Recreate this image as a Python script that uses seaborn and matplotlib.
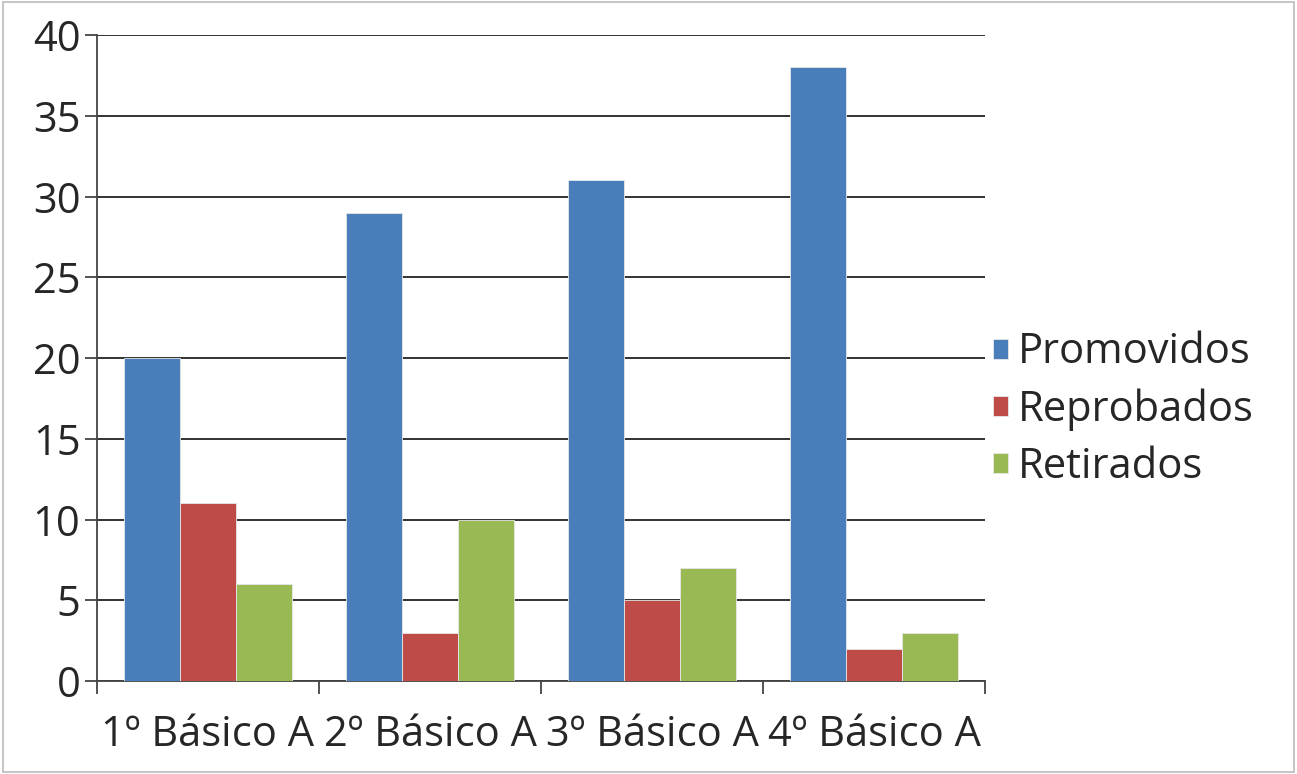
import matplotlib
matplotlib.use("Agg")
import matplotlib.pyplot as plt
import pandas as pd
import seaborn as sns

# === DATA ===
cursos = ["1º Básico A", "2º Básico A", "3º Básico A", "4º Básico A"]
series = ["Promovidos", "Reprobados", "Retirados"]
promovidos = [20, 29, 31, 38]
reprobados = [11, 3, 5, 2]
retirados = [6, 10, 7, 3]
y_ticks = [0, 5, 10, 15, 20, 25, 30, 35, 40]

colores = ["#4a7ebb", "#be4b48", "#98b954"]


def build_frame():
    rows = []
    for nombre, valores in zip(series, [promovidos, reprobados, retirados]):
        for curso, v in zip(cursos, valores):
            rows.append({"Curso": curso, "Serie": nombre, "Valor": v})
    return pd.DataFrame(rows)


def main():
    df = build_frame()
    sns.set_style("white")
    plt.rcParams["font.family"] = ["Open Sans", "DejaVu Sans"]

    fig = plt.figure(figsize=(12.97, 7.74), dpi=100)
    ax = fig.add_axes([0.0748, 0.120, 0.6847, 0.8348])

    sns.barplot(data=df, x="Curso", y="Valor", hue="Serie", order=cursos,
                hue_order=series, palette=colores, width=0.757, gap=0,
                saturation=1, edgecolor="#e8e8e8", linewidth=0.6, ax=ax,
                zorder=3)

    ax.set_xlim(-0.5, 3.5)
    ax.set_ylim(0, 40)
    ax.set_yticks(y_ticks)
    ax.yaxis.grid(True, color="#222222", linewidth=1.3, zorder=0)
    ax.set_axisbelow(True)
    ax.set_xlabel("")
    ax.set_ylabel("")

    for side in ["top", "right"]:
        ax.spines[side].set_visible(False)
    for side in ["left", "bottom"]:
        ax.spines[side].set_color("#444444")
        ax.spines[side].set_linewidth(1.3)

    # category tick marks sit on the group boundaries
    ax.set_xticks([-0.5, 0.5, 1.5, 2.5, 3.5], minor=False)
    ax.set_xticklabels([])
    ax.set_xticks([0, 1, 2, 3], minor=True)
    ax.set_xticklabels(cursos, minor=True, fontsize=30)
    ax.tick_params(axis="x", which="major", direction="out", length=9,
                   width=1.3, color="#444444", bottom=True)
    ax.tick_params(axis="x", which="minor", length=0, pad=24)
    ax.tick_params(axis="y", direction="out", length=9, width=1.3,
                   color="#444444", labelsize=30, left=True, pad=3)

    ax.legend(title=None, loc="center left", bbox_to_anchor=(1.0, 0.42),
              frameon=False, fontsize=30, handlelength=0.36, handleheight=0.36,
              handletextpad=0.22, labelspacing=0.36, borderaxespad=0.0,
              borderpad=0.2)

    fig.patches.append(plt.Rectangle((0.002, 0.002), 0.996, 0.996,
                                     transform=fig.transFigure, fill=False,
                                     edgecolor="#bbbbbb", linewidth=1.2))
    fig.savefig("out.png", dpi=100)


if __name__ == "__main__":
    main()
